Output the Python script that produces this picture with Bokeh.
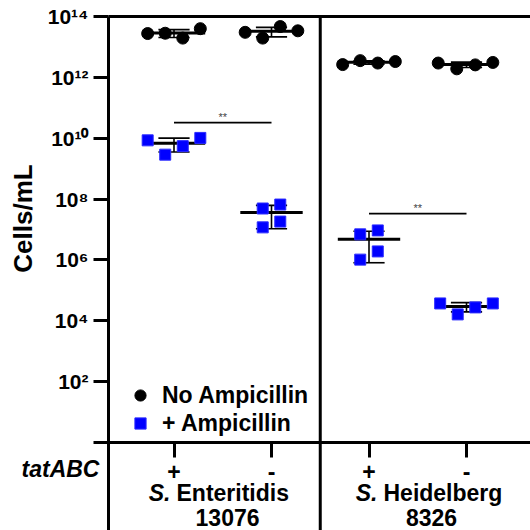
import numpy as np
from bokeh.plotting import figure
from bokeh.models import (Range1d, FixedTicker, Legend, LegendItem, ColumnDataSource)
from bokeh.core.properties import value
from bokeh.embed import file_html
from bokeh.resources import INLINE

FONT = "Liberation Sans"

# ---------------- data ----------------
tat_labels = ["+", "-", "+", "-"]          # tatABC status per column
tat_title = "tatABC"
y_title = "Cells/mL"
strain_prefix = ["S.", "S."]
strain_names = ["Enteritidis", "Heidelberg"]
strain_ids = ["13076", "8326"]
y_tick_exps = [0, 2, 4, 6, 8, 10, 12, 14]

# log10(Cells/mL), one list per column (SE+, SE-, SH+, SH-)
no_amp_log = [
    [13.44, 13.45, 13.29, 13.60],
    [13.48, 13.29, 13.67, 13.53],
    [12.42, 12.55, 12.47, 12.52],
    [12.47, 12.28, 12.41, 12.49],
]
no_amp_jitter = [
    [-0.27, -0.09, 0.09, 0.27],
    [-0.27, -0.09, 0.09, 0.27],
    [-0.27, -0.09, 0.09, 0.27],
    [-0.29, -0.10, 0.09, 0.27],
]
amp_log = [
    [9.93, 9.46, 9.74, 10.01],
    [7.69, 7.82, 7.07, 7.26],
    [6.84, 6.97, 6.01, 6.28],
    [4.57, 4.21, 4.44, 4.57],
]
amp_jitter = [
    [-0.27, -0.09, 0.09, 0.27],
    [-0.09, 0.09, -0.09, 0.09],
    [-0.09, 0.09, -0.09, 0.09],
    [-0.27, -0.09, 0.09, 0.27],
]
sig_pairs = [(0, 1), (2, 3)]
sig_log = [10.51, 7.52]
sig_text = ["**", "**"]

# layout constants (data units of the whole-canvas frame)
X_MIN, X_MAX = -1.7795, 3.6564      # canvas left / right edge
X_AXIS = -0.672                      # where the y axis is drawn
LOG_MIN, LOG_MAX = -2.892, 14.526    # canvas bottom / top edge
LOG_TOP = 14                         # top of the plotting box
ROW_TAT = -0.87
ROW_NAME = -1.676
ROW_ID = -2.46
YTITLE_X, YTITLE_LOG = -1.544, 7.362

# ---------------- figure (frame = whole canvas, axes at fixed positions) ----------------
p = figure(width=530, height=530, output_backend="svg", toolbar_location=None,
           x_range=Range1d(X_MIN, X_MAX),
           y_range=Range1d(10 ** LOG_MIN, 10 ** LOG_MAX), y_axis_type="log",
           min_border_left=0, min_border_right=0, min_border_top=0,
           min_border_bottom=0)
p.grid.visible = False
p.outline_line_color = None

# y axis
sup = str.maketrans("0123456789", "⁰¹²³⁴⁵⁶⁷⁸⁹")
p.yaxis.fixed_location = X_AXIS
p.yaxis.bounds = (10 ** LOG_MIN, 10 ** LOG_TOP)
p.yaxis.ticker = FixedTicker(ticks=[10 ** e for e in y_tick_exps])
p.yaxis.major_label_overrides = {10 ** e: ("" if e == 0 else "10" + str(e).translate(sup))
                                 for e in y_tick_exps}
p.yaxis.axis_line_width = 3
p.yaxis.major_tick_line_width = 3
p.yaxis.major_tick_out = 15
p.yaxis.major_tick_in = 0
p.yaxis.minor_tick_line_color = None
p.yaxis.major_label_text_font = FONT
p.yaxis.major_label_text_font_style = "bold"
p.yaxis.major_label_text_font_size = "21px"
p.yaxis.major_label_standoff = 5
p.yaxis.major_label_text_color = "black"

# x axis drawn at y = 10^0
p.xaxis.fixed_location = 1
p.xaxis.bounds = (X_AXIS, X_MAX)
p.xaxis.ticker = FixedTicker(ticks=list(range(len(tat_labels))))
p.xaxis.major_label_overrides = {i: t for i, t in enumerate(tat_labels)}
p.xaxis.axis_line_width = 3
p.xaxis.major_tick_line_width = 3
p.xaxis.major_tick_out = 15
p.xaxis.major_tick_in = 0
p.xaxis.minor_tick_line_color = None
p.xaxis.major_label_text_font = FONT
p.xaxis.major_label_text_font_style = "bold"
p.xaxis.major_label_text_font_size = "23px"
p.xaxis.major_label_standoff = 5
p.xaxis.major_label_text_color = "black"

# box top and group divider
p.segment(x0=[X_AXIS], x1=[X_MAX], y0=[10 ** LOG_TOP], y1=[10 ** LOG_TOP],
          line_width=3, line_color="black")
p.segment(x0=[1.5], x1=[1.5], y0=[10 ** LOG_MIN], y1=[10 ** LOG_TOP], line_width=3,
          line_color="black")

# ---------------- summary stats (mean ± SD on linear scale) ----------------
def stats(logs):
    m, lo, hi = [], [], []
    for g in logs:
        v = 10 ** np.array(g)
        mu = v.mean()
        sd = v.std(ddof=1)
        m.append(mu)
        lo.append(max(mu - sd, 1.0))
        hi.append(mu + sd)
    return m, lo, hi

cols = list(range(len(tat_labels)))
for logs in (no_amp_log, amp_log):
    m, lo, hi = stats(logs)
    xs = np.array(cols, dtype=float)
    p.segment(x0=xs - 0.32, x1=xs + 0.32, y0=m, y1=m, line_width=3, line_color="black")
    p.segment(x0=xs, x1=xs, y0=lo, y1=hi, line_width=1.6, line_color="black")
    p.segment(x0=xs - 0.16, x1=xs + 0.16, y0=hi, y1=hi, line_width=1.6, line_color="black")
    p.segment(x0=xs - 0.16, x1=xs + 0.16, y0=lo, y1=lo, line_width=1.6, line_color="black")

# points
def pts(logs, jit):
    x, y = [], []
    for i, (g, j) in enumerate(zip(logs, jit)):
        for v, d in zip(g, j):
            x.append(i + d)
            y.append(10 ** v)
    return ColumnDataSource(dict(x=x, y=y))

r_no = p.scatter("x", "y", source=pts(no_amp_log, no_amp_jitter), marker="circle",
                 size=12, fill_color="black", line_color="black")
r_amp = p.scatter("x", "y", source=pts(amp_log, amp_jitter), marker="square",
                  size=11, fill_color="#0000ff", line_color="#2a2aff", line_width=1)

# significance bars
for (a, b), lg, t in zip(sig_pairs, sig_log, sig_text):
    p.segment(x0=[a], x1=[b], y0=[10 ** lg], y1=[10 ** lg], line_width=1.8, line_color="black")
    p.text(x=[(a + b) / 2], y=[10 ** (lg + 0.18)], text=[t], text_font=value(FONT),
           text_font_size="11px", text_color="#444444", text_align="center",
           text_baseline="middle")

# legend
legend = Legend(items=[LegendItem(label="No Ampicillin", renderers=[r_no]),
                       LegendItem(label="+ Ampicillin", renderers=[r_amp])],
                location=(126, 93), glyph_width=28, glyph_height=28, label_height=28,
                label_standoff=8, spacing=0, padding=0, margin=0,
                label_text_font=FONT, label_text_font_style="bold",
                label_text_font_size="23px", label_text_color="black",
                border_line_color=None, background_fill_alpha=0)
p.add_layout(legend)

# titles
p.text(x=[YTITLE_X], y=[10 ** YTITLE_LOG], text=[y_title], angle=np.pi / 2,
       text_font=value(FONT), text_font_style="bold", text_font_size="26px",
       text_align="center", text_baseline="middle", text_color="black")
p.text(x=[X_AXIS], y=[10 ** ROW_TAT], text=[tat_title], x_offset=-9,
       text_font=value(FONT), text_font_style="bold italic", text_font_size="23px",
       text_align="right", text_baseline="middle", text_color="black")

# strain labels under the axis
junction_x = [-0.036, 2.087]
id_x = [0.549, 2.641]
p.text(x=junction_x, y=[10 ** ROW_NAME] * 2, text=strain_prefix, text_font=value(FONT),
       text_font_style="bold italic", text_font_size="23px", text_align="right",
       text_baseline="middle", text_color="black")
p.text(x=junction_x, y=[10 ** ROW_NAME] * 2, text=strain_names, x_offset=6,
       text_font=value(FONT), text_font_style="bold", text_font_size="23px",
       text_align="left", text_baseline="middle", text_color="black")
p.text(x=id_x, y=[10 ** ROW_ID] * 2, text=strain_ids, text_font=value(FONT),
       text_font_style="bold", text_font_size="23px", text_align="center",
       text_baseline="middle", text_color="black")

open("out.html", "w").write(file_html(p, INLINE))
